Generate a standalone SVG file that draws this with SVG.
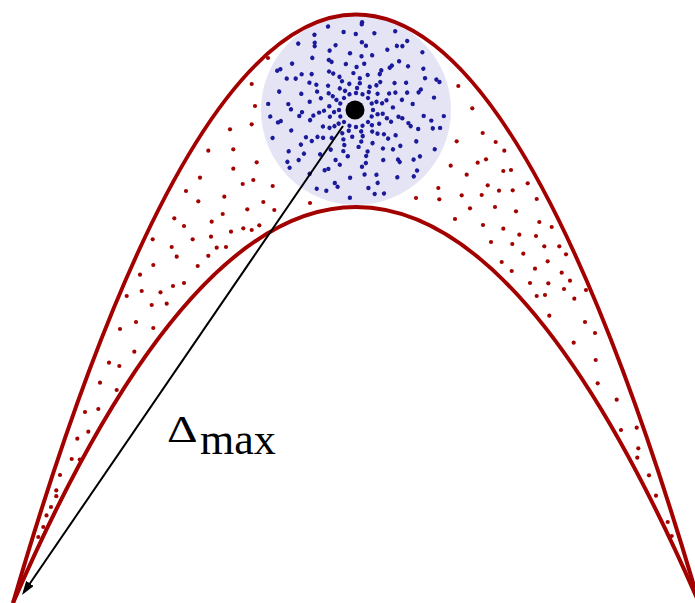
<svg xmlns="http://www.w3.org/2000/svg" xmlns:xlink="http://www.w3.org/1999/xlink" width="695" height="603" viewBox="0 0 695 603">
<style>
.curve{fill:none;stroke:#a30000;stroke-width:4}
.rd{fill:#a30000}
.bd{fill:#1a1a9a}
.lbl{font-family:"Liberation Serif","DejaVu Serif",serif;fill:#000}
</style>
<defs>
<g id="armA" class="bd">
<circle cx="17" cy="0" r="2.2"/><circle cx="26.7" cy="3.8" r="2.2"/><circle cx="36.9" cy="-2.6" r="2.2"/><circle cx="46.3" cy="8.2" r="2.2"/><circle cx="56.7" cy="-6" r="2.2"/><circle cx="67.7" cy="5.9" r="2.2"/><circle cx="78" cy="-12.4" r="2.2"/><circle cx="87.8" cy="6.1" r="2.2"/>
</g>
<g id="armB" class="bd">
<circle cx="21.6" cy="4.2" r="2.2"/><circle cx="30.9" cy="8.3" r="2.2"/><circle cx="42.5" cy="6.7" r="2.2"/><circle cx="52.4" cy="13.1" r="2.2"/><circle cx="62.2" cy="19" r="2.2"/><circle cx="75.3" cy="10.6" r="2.2"/><circle cx="84.1" cy="17.9" r="2.2"/>
</g>
<marker id="ah" markerUnits="userSpaceOnUse" markerWidth="14" markerHeight="9" refX="10" refY="4.5" orient="auto"><path d="M0,0 L14,4.5 L0,9 z" fill="#000"/></marker>
</defs>
<rect width="695" height="603" fill="#fff"/>
<g id="ball">
<circle cx="356" cy="110" r="95" fill="#e4e4f5"/>
<use href="#armA" transform="translate(356,110) rotate(0)"/>
<use href="#armA" transform="translate(356,110) rotate(22.5)"/>
<use href="#armA" transform="translate(356,110) rotate(45)"/>
<use href="#armA" transform="translate(356,110) rotate(67.5)"/>
<use href="#armA" transform="translate(356,110) rotate(90)"/>
<use href="#armA" transform="translate(356,110) rotate(112.5)"/>
<use href="#armA" transform="translate(356,110) rotate(135)"/>
<use href="#armA" transform="translate(356,110) rotate(157.5)"/>
<use href="#armA" transform="translate(356,110) rotate(180)"/>
<use href="#armA" transform="translate(356,110) rotate(202.5)"/>
<use href="#armA" transform="translate(356,110) rotate(225)"/>
<use href="#armA" transform="translate(356,110) rotate(247.5)"/>
<use href="#armA" transform="translate(356,110) rotate(270)"/>
<use href="#armA" transform="translate(356,110) rotate(292.5)"/>
<use href="#armA" transform="translate(356,110) rotate(315)"/>
<use href="#armA" transform="translate(356,110) rotate(337.5)"/>
<use href="#armB" transform="translate(356,110) rotate(0)"/>
<use href="#armB" transform="translate(356,110) rotate(32.73)"/>
<use href="#armB" transform="translate(356,110) rotate(65.45)"/>
<use href="#armB" transform="translate(356,110) rotate(98.18)"/>
<use href="#armB" transform="translate(356,110) rotate(130.91)"/>
<use href="#armB" transform="translate(356,110) rotate(163.64)"/>
<use href="#armB" transform="translate(356,110) rotate(196.36)"/>
<use href="#armB" transform="translate(356,110) rotate(229.09)"/>
<use href="#armB" transform="translate(356,110) rotate(261.82)"/>
<use href="#armB" transform="translate(356,110) rotate(294.55)"/>
<use href="#armB" transform="translate(356,110) rotate(327.27)"/>
</g>
<g id="band">
<path class="curve" d="M13,603 Q356,-573.8 699,603"/>
<path class="curve" d="M13,603 Q356,-189 699,603"/>
<g class="rd">
<circle cx="268" cy="58" r="2.1"/><circle cx="251.7" cy="84" r="2.1"/><circle cx="255" cy="106" r="2.1"/><circle cx="251.7" cy="124.3" r="2.1"/><circle cx="230" cy="129.3" r="2.1"/><circle cx="208.3" cy="150.7" r="2.1"/><circle cx="233.3" cy="149.3" r="2.1"/><circle cx="256.7" cy="162.3" r="2.1"/><circle cx="233.3" cy="168.7" r="2.1"/><circle cx="200" cy="177.7" r="2.1"/><circle cx="253.3" cy="180" r="2.1"/><circle cx="242.7" cy="184" r="2.1"/><circle cx="272.7" cy="186" r="2.1"/><circle cx="186" cy="191" r="2.1"/><circle cx="224.3" cy="196.7" r="2.1"/><circle cx="198.3" cy="201.3" r="2.1"/><circle cx="263.3" cy="202" r="2.1"/><circle cx="247.3" cy="209.3" r="2.1"/><circle cx="274.3" cy="210" r="2.1"/><circle cx="310" cy="203" r="2.1"/><circle cx="174.3" cy="218.3" r="2.1"/><circle cx="211.7" cy="221.7" r="2.1"/><circle cx="222.7" cy="214" r="2.1"/><circle cx="184" cy="226" r="2.1"/><circle cx="243.3" cy="228.3" r="2.1"/><circle cx="251.7" cy="230" r="2.1"/><circle cx="259.3" cy="225.3" r="2.1"/><circle cx="231" cy="231.7" r="2.1"/><circle cx="152.7" cy="239.3" r="2.1"/><circle cx="192.7" cy="239.3" r="2.1"/><circle cx="211" cy="236.7" r="2.1"/><circle cx="171.7" cy="247" r="2.1"/><circle cx="216.7" cy="247.7" r="2.1"/><circle cx="226" cy="247" r="2.1"/><circle cx="176.7" cy="256.7" r="2.1"/><circle cx="208.3" cy="255.8" r="2.1"/><circle cx="153.3" cy="265" r="2.1"/><circle cx="197.7" cy="266" r="2.1"/><circle cx="140" cy="274.7" r="2.1"/>
<circle cx="184" cy="283" r="2.1"/><circle cx="173" cy="286" r="2.1"/><circle cx="141.7" cy="291" r="2.1"/><circle cx="126.7" cy="296" r="2.1"/><circle cx="160.5" cy="292.3" r="2.1"/><circle cx="151.7" cy="305" r="2.1"/><circle cx="166.7" cy="303.7" r="2.1"/><circle cx="136" cy="322" r="2.1"/><circle cx="153.3" cy="328" r="2.1"/><circle cx="120" cy="329" r="2.1"/><circle cx="134.3" cy="351.7" r="2.1"/><circle cx="109" cy="362.7" r="2.1"/><circle cx="119.3" cy="366" r="2.1"/><circle cx="100" cy="382.7" r="2.1"/><circle cx="116.7" cy="390" r="2.1"/><circle cx="85" cy="412" r="2.1"/><circle cx="98.3" cy="409" r="2.1"/><circle cx="77.3" cy="438.7" r="2.1"/><circle cx="88.3" cy="431.7" r="2.1"/><circle cx="71.7" cy="459" r="2.1"/><circle cx="79.8" cy="459.6" r="2.1"/><circle cx="60" cy="475" r="2.1"/><circle cx="56.3" cy="490.4" r="2.1"/><circle cx="56.3" cy="496.2" r="2.1"/><circle cx="51" cy="507" r="2.1"/><circle cx="46.5" cy="515.4" r="2.1"/><circle cx="43.3" cy="527" r="2.1"/><circle cx="38.3" cy="537" r="2.1"/>
<circle cx="458.3" cy="86" r="2.1"/><circle cx="472.3" cy="108.3" r="2.1"/><circle cx="482.7" cy="133" r="2.1"/><circle cx="456.7" cy="141.3" r="2.1"/><circle cx="495.7" cy="142" r="2.1"/><circle cx="504.3" cy="150.7" r="2.1"/><circle cx="450.7" cy="165.7" r="2.1"/><circle cx="477.7" cy="162.7" r="2.1"/><circle cx="486" cy="159.3" r="2.1"/><circle cx="466.7" cy="174.7" r="2.1"/><circle cx="503.3" cy="171" r="2.1"/><circle cx="511" cy="170" r="2.1"/><circle cx="438.3" cy="188" r="2.1"/><circle cx="487.7" cy="185.3" r="2.1"/><circle cx="527.7" cy="183.3" r="2.1"/><circle cx="416" cy="198" r="2.1"/><circle cx="439.3" cy="199.3" r="2.1"/><circle cx="461.7" cy="195.3" r="2.1"/><circle cx="481.7" cy="195" r="2.1"/><circle cx="499" cy="190.7" r="2.1"/><circle cx="512.7" cy="190.3" r="2.1"/><circle cx="470" cy="208.3" r="2.1"/><circle cx="495" cy="207" r="2.1"/><circle cx="516" cy="211.3" r="2.1"/><circle cx="536.7" cy="199" r="2.1"/><circle cx="455" cy="219" r="2.1"/><circle cx="483" cy="225" r="2.1"/><circle cx="503.3" cy="228.7" r="2.1"/><circle cx="539.3" cy="222" r="2.1"/><circle cx="551.7" cy="227" r="2.1"/><circle cx="491" cy="242" r="2.1"/><circle cx="512.3" cy="244" r="2.1"/><circle cx="519.3" cy="234.7" r="2.1"/><circle cx="536" cy="236" r="2.1"/><circle cx="544.3" cy="246.3" r="2.1"/><circle cx="559.3" cy="246.3" r="2.1"/><circle cx="523.3" cy="253.7" r="2.1"/><circle cx="501.7" cy="262" r="2.1"/><circle cx="547.7" cy="261.3" r="2.1"/><circle cx="566" cy="254.3" r="2.1"/><circle cx="511.7" cy="271" r="2.1"/><circle cx="535" cy="268.7" r="2.1"/><circle cx="561.7" cy="272.7" r="2.1"/>
<circle cx="530" cy="283" r="2.1"/><circle cx="548.3" cy="283.3" r="2.1"/><circle cx="570" cy="280.7" r="2.1"/><circle cx="536.7" cy="296" r="2.1"/><circle cx="545" cy="295" r="2.1"/><circle cx="564" cy="289" r="2.1"/><circle cx="586" cy="290" r="2.1"/><circle cx="574.3" cy="298.7" r="2.1"/><circle cx="549.3" cy="315.7" r="2.1"/><circle cx="585" cy="322" r="2.1"/><circle cx="595" cy="333" r="2.1"/><circle cx="573.7" cy="342.7" r="2.1"/><circle cx="595.7" cy="360" r="2.1"/><circle cx="597.7" cy="383.3" r="2.1"/><circle cx="616.7" cy="399.7" r="2.1"/><circle cx="621" cy="430" r="2.1"/><circle cx="636.7" cy="427.7" r="2.1"/><circle cx="638.3" cy="448.3" r="2.1"/><circle cx="637.3" cy="457.7" r="2.1"/><circle cx="649" cy="475.3" r="2.1"/><circle cx="656" cy="495.7" r="2.1"/><circle cx="667.7" cy="522" r="2.1"/><circle cx="671.7" cy="536" r="2.1"/>
</g>
</g>
<g id="connectors">
<line x1="343" y1="126" x2="24.25" y2="591.7" stroke="#000" stroke-width="2" marker-end="url(#ah)"/>
</g>
<g id="center">
<circle cx="355" cy="110" r="9.5" fill="#000"/>
</g>
<g id="label">
<text class="lbl" transform="translate(167,442) scale(1.25,1)" x="0" y="0" font-size="38">Δ</text>
<text class="lbl" x="200" y="454" font-size="44">max</text>
</g>
</svg>
